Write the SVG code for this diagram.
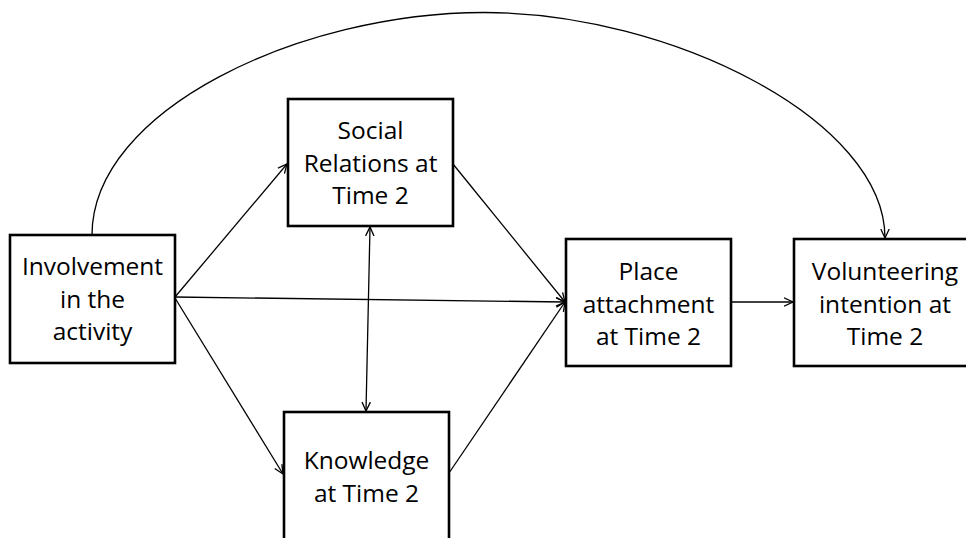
<svg xmlns="http://www.w3.org/2000/svg" width="966" height="538" viewBox="0 0 966 538">
  <style>
    .box { fill: #ffffff; stroke: #000000; stroke-width: 2.6; }
    .lbl { font-family: "Open Sans", "Liberation Sans", sans-serif; font-size: 24.5px; fill: #000000; text-anchor: middle; }
    .conn { fill: none; stroke: #000000; stroke-width: 1.3; }
  </style>
  <defs>
    <marker id="arr" viewBox="0 0 10 10" refX="9.5" refY="5" markerWidth="10" markerHeight="10" markerUnits="userSpaceOnUse" orient="auto-start-reverse">
      <path d="M0.5,0.8 L9.5,5 L0.5,9.2" fill="none" stroke="#000000" stroke-width="1.3"/>
    </marker>
  </defs>
  <rect width="966" height="538" fill="#ffffff"/>

  <g id="connectors">
    <path class="conn" d="M 92 235 C 92 110 300 12.5 484 12.5 C 670 12.5 885 120 885 238" marker-end="url(#arr)"/>
    <line class="conn" x1="175" y1="297" x2="287" y2="164" marker-end="url(#arr)"/>
    <line class="conn" x1="175" y1="297" x2="565" y2="302" marker-end="url(#arr)"/>
    <line class="conn" x1="175" y1="298" x2="283" y2="474" marker-end="url(#arr)"/>
    <line class="conn" x1="453" y1="164" x2="565" y2="302" marker-end="url(#arr)"/>
    <line class="conn" x1="449" y1="473" x2="565" y2="302" marker-end="url(#arr)"/>
    <line class="conn" x1="370" y1="227" x2="366" y2="411" marker-start="url(#arr)" marker-end="url(#arr)"/>
    <line class="conn" x1="731" y1="302" x2="793" y2="302" marker-end="url(#arr)"/>
  </g>

  <g id="involvement">
    <rect class="box" x="10" y="235" width="165" height="128"/>
    <text class="lbl" x="92.5" y="275">Involvement</text>
    <text class="lbl" x="92.5" y="308">in the</text>
    <text class="lbl" x="92.5" y="340">activity</text>
  </g>

  <g id="social">
    <rect class="box" x="288" y="99" width="165" height="127"/>
    <text class="lbl" x="370.5" y="139">Social</text>
    <text class="lbl" x="370.5" y="172">Relations at</text>
    <text class="lbl" x="370.5" y="204">Time 2</text>
  </g>

  <g id="knowledge">
    <rect class="box" x="284" y="412" width="165" height="140"/>
    <text class="lbl" x="366.5" y="469">Knowledge</text>
    <text class="lbl" x="366.5" y="502">at Time 2</text>
  </g>

  <g id="place">
    <rect class="box" x="566" y="239" width="165" height="127"/>
    <text class="lbl" x="648.5" y="280">Place</text>
    <text class="lbl" x="648.5" y="313">attachment</text>
    <text class="lbl" x="648.5" y="345">at Time 2</text>
  </g>

  <g id="volunteering">
    <rect class="box" x="794" y="239" width="182" height="127"/>
    <text class="lbl" x="885" y="280">Volunteering</text>
    <text class="lbl" x="885" y="313">intention at</text>
    <text class="lbl" x="885" y="345">Time 2</text>
  </g>
</svg>
